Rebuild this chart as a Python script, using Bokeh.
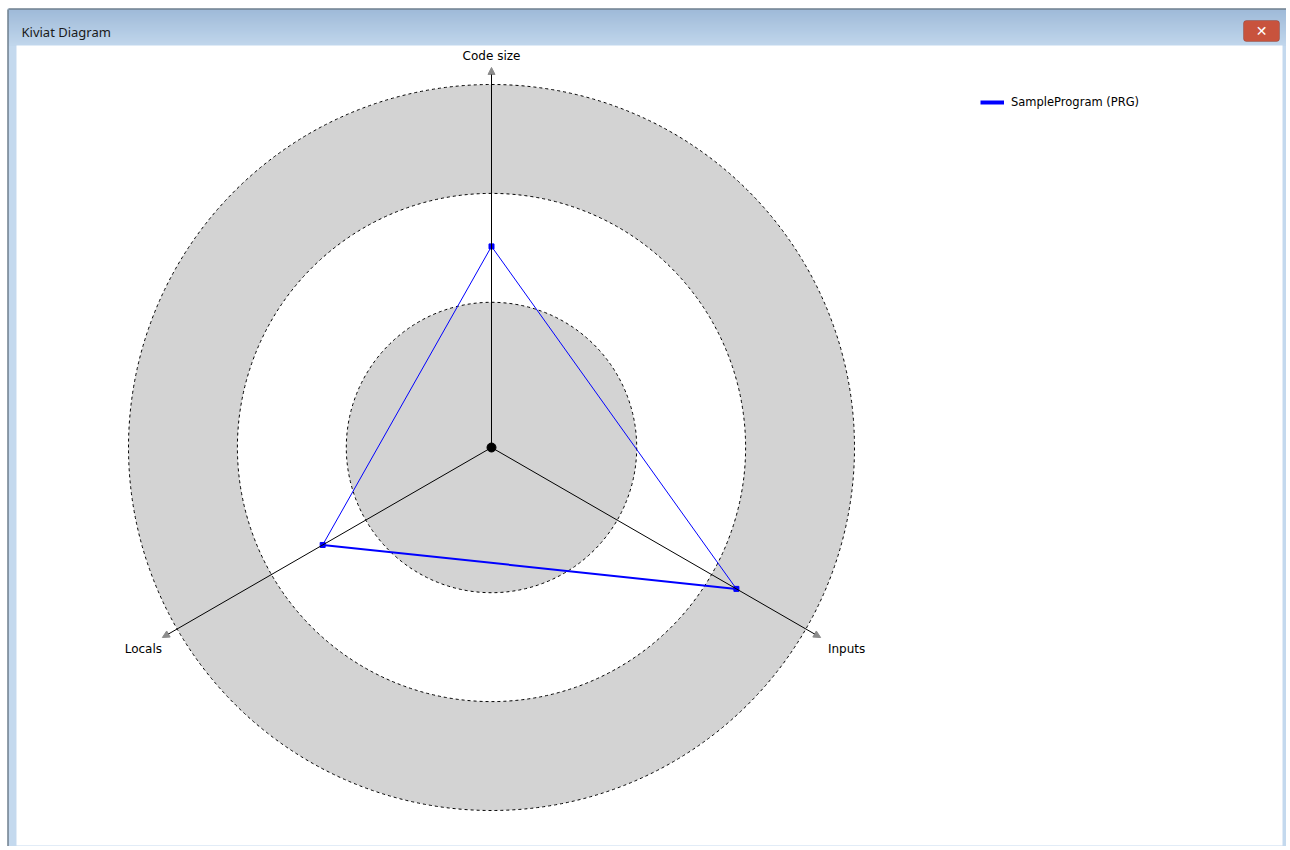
import numpy as np
from bokeh.plotting import figure
from bokeh.models import Range1d, Arrow, NormalHead, Label, BoxAnnotation, Legend, LegendItem
from bokeh.core.properties import value
from bokeh.embed import file_html
from bokeh.resources import INLINE

# ---------------- data ----------------
axis_names = ["Code size", "Inputs", "Locals"]
axis_angles_deg = [90, -30, 210]
series_name = "SampleProgram (PRG)"
series_values = [55.4, 77.9, 53.7]
ring_levels = [100, 70, 40]
axis_max = 104.7

# ---------------- layout helpers (decoration only) ----------------
S = 3.63                 # pixels per value unit
CX, CY = 491, 447        # canvas position of radar centre
W, H = 1286, 846
def dx(px): return (px - CX) / S
def dy(py): return (CY - py) / S

p = figure(width=W, height=H, output_backend="svg", toolbar_location=None,
           x_range=Range1d(dx(0), dx(W)), y_range=Range1d(dy(H), dy(0)), min_border=0)
p.min_border_left = p.min_border_right = p.min_border_top = p.min_border_bottom = 0
p.xaxis.visible = False
p.yaxis.visible = False
p.grid.visible = False
p.outline_line_color = None
p.background_fill_color = "white"
p.border_fill_color = "white"

def box(l, t, r, b, color):
    p.quad(left=dx(l), right=dx(r), top=dy(t), bottom=dy(b), fill_color=color, line_color=None)

# ---- window chrome ----
box(7, 8, W, H, "#c4d9ee")          # window frame
top_c = np.array([160, 187, 217])
bot_c = np.array([192, 214, 236])
n = 18
for i in range(n):
    t = i / (n - 1)
    c = (top_c * (1 - t) + bot_c * t).astype(int)
    y0 = 9 + i * (45 - 9) / n
    y1 = 9 + (i + 1) * (45 - 9) / n
    box(8, y0, W, y1 + 0.6, "#%02x%02x%02x" % tuple(c))
box(16, 45, 1282, 845, "#ffffff")   # client area
box(8, 8, W, 9, "#45525f")          # dark outer edge (top)
box(7, 9, 8, H, "#45525f")          # dark outer edge (left)
p.add_layout(BoxAnnotation(left=dx(1243), right=dx(1279), top=dy(20), bottom=dy(41),
                           fill_color="#c8533d", fill_alpha=1, line_color="#6e2a1f", line_width=1,
                           border_radius=3))
p.add_layout(Label(x=dx(1261), y=dy(30.5), text="✕", text_color="white", text_font="DejaVu Sans",
                   text_font_size="14px", text_font_style="bold", text_align="center", text_baseline="middle"))
p.add_layout(Label(x=dx(21), y=dy(31), text="Kiviat Diagram", text_color="#1a1a1a",
                   text_font="Noto Sans", text_font_size="13px", text_align="left", text_baseline="middle"))

# ---------------- rings ----------------
ring_fill = ["#d3d3d3", "#ffffff", "#d3d3d3"]
p.circle(x=[0] * len(ring_levels), y=[0] * len(ring_levels), radius=ring_levels,
         fill_color=ring_fill, line_color="#000000", line_width=1, line_dash="3 3")

# ---------------- axes ----------------
ang = np.radians(axis_angles_deg)
ax_x = axis_max * np.cos(ang)
ax_y = axis_max * np.sin(ang)
for x1, y1 in zip(ax_x, ax_y):
    p.add_layout(Arrow(x_start=0, y_start=0, x_end=x1, y_end=y1, line_color="#000000", line_width=1,
                       end=NormalHead(size=7, fill_color="#8c8c8c", line_color="#8c8c8c")))

lab_dx = [0, 26, -19]
lab_dy = [-11, 11, 11]
p.text(x=ax_x, y=ax_y, text=axis_names, x_offset=lab_dx, y_offset=lab_dy,
       text_align="center", text_baseline="middle", text_font=value("DejaVu Sans"),
       text_font_size="12px", text_color="#000000")

# ---------------- series ----------------
vals = np.array(series_values)
px = vals * np.cos(ang)
py = vals * np.sin(ang)
edge_w = [1, 2, 1]
for i in range(len(vals)):
    j = (i + 1) % len(vals)
    p.line(x=[px[i], px[j]], y=[py[i], py[j]], line_color="#0000ff", line_width=edge_w[i])
p.scatter(x=px, y=py, marker="square", size=5, fill_color="#0000ff", line_color="#0000ff")
p.scatter(x=[0], y=[0], size=9, fill_color="#000000", line_color="#000000")

legend_r = p.line(x=px[:1], y=py[:1], line_color="#0000ff", line_width=4)
legend = Legend(items=[LegendItem(label=series_name, renderers=[legend_r])],
                location=(980, H - 112), glyph_width=24, glyph_height=20, label_standoff=7,
                padding=0, margin=0, border_line_color=None, background_fill_alpha=0,
                label_text_font="DejaVu Sans", label_text_font_size="11.5px", label_text_color="#000000")
p.add_layout(legend)

open("out.html", "w").write(file_html(p, INLINE))
